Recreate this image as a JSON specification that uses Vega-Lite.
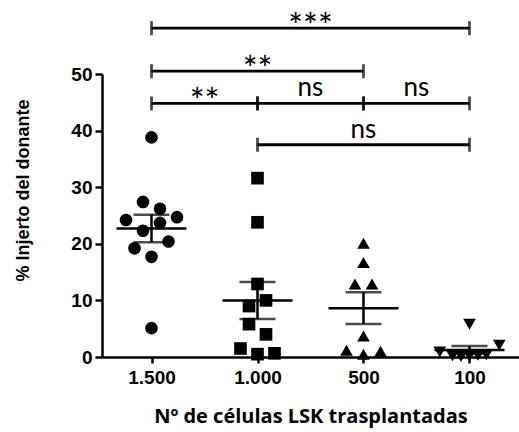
{
  "$schema": "https://vega.github.io/schema/vega-lite/v6.json",
  "width": 417,
  "height": 283,
  "autosize": {"type": "none"},
  "padding": {"left": 102, "top": 74, "right": 0, "bottom": 75},
  "config": {"view": {"stroke": null}, "background": "white"},
  "layer": [
    {
      "data": {
        "values": [
          {"group": "1.500", "pct": 38.8, "col": 0},
          {"group": "1.500", "pct": 27.4, "col": -1},
          {"group": "1.500", "pct": 26.2, "col": 1},
          {"group": "1.500", "pct": 24.2, "col": -3},
          {"group": "1.500", "pct": 24.7, "col": 3},
          {"group": "1.500", "pct": 23.7, "col": 1},
          {"group": "1.500", "pct": 22.3, "col": -1},
          {"group": "1.500", "pct": 19.2, "col": -2},
          {"group": "1.500", "pct": 20.4, "col": 2},
          {"group": "1.500", "pct": 17.7, "col": 0},
          {"group": "1.500", "pct": 5.1, "col": 0},
          {"group": "1.000", "pct": 31.6, "col": 0},
          {"group": "1.000", "pct": 23.8, "col": 0},
          {"group": "1.000", "pct": 12.9, "col": 0},
          {"group": "1.000", "pct": 10.0, "col": 1},
          {"group": "1.000", "pct": 9.0, "col": -1},
          {"group": "1.000", "pct": 5.8, "col": -1},
          {"group": "1.000", "pct": 4.0, "col": 1},
          {"group": "1.000", "pct": 1.5, "col": -2},
          {"group": "1.000", "pct": 0.5, "col": 0},
          {"group": "1.000", "pct": 0.65, "col": 2},
          {"group": "500", "pct": 20.1, "col": 0},
          {"group": "500", "pct": 16.7, "col": 0},
          {"group": "500", "pct": 12.9, "col": -1},
          {"group": "500", "pct": 12.9, "col": 1},
          {"group": "500", "pct": 3.7, "col": 0},
          {"group": "500", "pct": 1.2, "col": -2},
          {"group": "500", "pct": 0.5, "col": 0},
          {"group": "500", "pct": 1.0, "col": 2},
          {"group": "100", "pct": 5.8, "col": 0},
          {"group": "100", "pct": 2.1, "col": 3.5},
          {"group": "100", "pct": 0.9, "col": -3.5},
          {"group": "100", "pct": 0.2, "col": -2},
          {"group": "100", "pct": 0.1, "col": -1},
          {"group": "100", "pct": 0.2, "col": 0},
          {"group": "100", "pct": 0.3, "col": 1},
          {"group": "100", "pct": 0.4, "col": 2}
        ]
      },
      "encoding": {
        "x": {
          "field": "group",
          "type": "ordinal",
          "sort": ["1.500", "1.000", "500", "100"],
          "scale": {"type": "point", "padding": 0.467, "domain": ["1.500", "1.000", "500", "100"]},
          "axis": {
            "title": "Nº de células LSK trasplantadas",
            "titleFont": "Open Sans",
            "titleFontSize": 20,
            "titleFontWeight": "bold",
            "titleColor": "black",
            "titlePadding": 19,
            "labelFont": "Liberation Sans",
            "labelFontSize": 19,
            "labelFontWeight": "bold",
            "labelColor": "black",
            "labelAngle": 0,
            "labelPadding": 5,
            "tickSize": 6,
            "tickWidth": 2.5,
            "tickColor": "black",
            "domainColor": "black",
            "domainWidth": 2.5,
            "grid": false
          }
        },
        "y": {
          "field": "pct",
          "type": "quantitative",
          "scale": {"domain": [0, 50], "nice": false},
          "axis": {
            "title": "% Injerto del donante",
            "titleFont": "Liberation Sans",
            "titleFontSize": 18,
            "titleFontWeight": "bold",
            "titleColor": "black",
            "titlePadding": 38,
            "titleY": 116,
            "values": [0, 10, 20, 30, 40, 50],
            "labelFont": "Liberation Sans",
            "labelFontSize": 19,
            "labelFontWeight": "bold",
            "labelColor": "black",
            "labelPadding": 3,
            "tickSize": 7,
            "tickWidth": 2.5,
            "tickColor": "black",
            "domainColor": "black",
            "domainWidth": 2.5,
            "grid": false
          }
        }
      },
      "layer": [
        {
          "mark": {"type": "point", "filled": true, "size": 160, "opacity": 1, "color": "black"},
          "encoding": {
            "xOffset": {"field": "col", "type": "quantitative", "scale": {"domain": [-4, 4], "range": [-34, 34]}},
            "shape": {
              "field": "group",
              "type": "nominal",
              "scale": {"domain": ["1.500", "1.000", "500", "100"], "range": ["circle", "square", "triangle-up", "triangle-down"]},
              "legend": null
            }
          }
        },
        {
          "mark": {"type": "errorbar", "extent": "stderr", "thickness": 2.5, "color": "black", "ticks": {"size": 36, "thickness": 2.5, "color": "black"}}
        },
        {
          "mark": {"type": "tick", "size": 70, "thickness": 2.5, "color": "black"},
          "encoding": {"y": {"aggregate": "mean", "field": "pct", "type": "quantitative"}}
        }
      ]
    },
    {
      "data": {
        "values": [
          {"a": 0, "b": 3, "y": 58.1, "label": "***"},
          {"a": 0, "b": 2, "y": 50.5, "label": "**"},
          {"a": 0, "b": 1, "y": 44.8, "label": "**"},
          {"a": 1, "b": 2, "y": 44.8, "label": "ns"},
          {"a": 2, "b": 3, "y": 44.8, "label": "ns"},
          {"a": 1, "b": 3, "y": 37.5, "label": "ns"}
        ]
      },
      "encoding": {
        "y": {"field": "y", "type": "quantitative", "scale": {"domain": [0, 50], "nice": false}, "axis": null}
      },
      "layer": [
        {
          "mark": {"type": "rule", "strokeWidth": 2.8, "color": "black"},
          "encoding": {
            "x": {"field": "a", "type": "quantitative", "scale": {"domain": [-0.467, 3.467], "nice": false, "zero": false}, "axis": null},
            "x2": {"field": "b"}
          }
        },
        {
          "transform": [{"fold": ["a", "b"], "as": ["end", "pos"]}],
          "mark": {"type": "tick", "orient": "vertical", "size": 14, "thickness": 2.8, "color": "black"},
          "encoding": {
            "x": {"field": "pos", "type": "quantitative", "scale": {"domain": [-0.467, 3.467], "nice": false, "zero": false}, "axis": null}
          }
        },
        {
          "transform": [{"filter": "datum.label === 'ns'"}, {"calculate": "(datum.a + datum.b) / 2", "as": "mid"}],
          "mark": {"type": "text", "font": "Lato", "fontSize": 26, "baseline": "alphabetic", "dy": -7, "color": "black"},
          "encoding": {
            "x": {"field": "mid", "type": "quantitative", "scale": {"domain": [-0.467, 3.467], "nice": false, "zero": false}, "axis": null},
            "text": {"field": "label"}
          }
        },
        {
          "transform": [{"filter": "datum.label !== 'ns'"}, {"calculate": "(datum.a + datum.b) / 2", "as": "mid"}],
          "mark": {"type": "text", "font": "Lato", "fontSize": 35, "baseline": "alphabetic", "dy": 10, "color": "black"},
          "encoding": {
            "x": {"field": "mid", "type": "quantitative", "scale": {"domain": [-0.467, 3.467], "nice": false, "zero": false}, "axis": null},
            "text": {"field": "label"}
          }
        }
      ]
    }
  ],
  "resolve": {"scale": {"x": "independent", "y": "independent"}}
}
